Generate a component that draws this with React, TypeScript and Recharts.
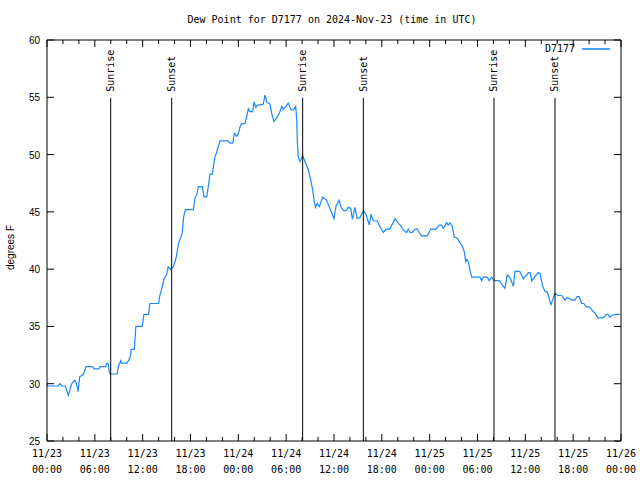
import React from "react";
import { LineChart, Line, XAxis, YAxis, ReferenceLine, Legend } from "recharts";

// Hours since 2024-11-23 00:00 UTC
const hours = [
  0.0, 0.1, 1.4, 1.6, 1.9, 2.3, 2.67, 3.1, 3.5, 3.7, 3.9, 4.1, 4.55, 4.9, 5.7, 5.9, 6.5, 6.65, 7.35, 7.5,
  7.7, 7.8, 7.9, 8.8, 8.95, 9.25, 9.35, 10.0, 10.3, 10.5, 10.55, 10.95, 11.15, 11.95, 12.15, 12.75, 12.9, 14.0, 14.15, 14.45,
  14.7, 15.0, 15.2, 15.5, 15.85, 16.2, 16.5, 16.95, 17.15, 17.35, 18.35, 18.56, 18.78, 18.98, 19.48, 19.7, 20.03, 20.23, 20.45, 20.73,
  21.07, 21.3, 21.7, 22.74, 22.95, 23.3, 23.5, 23.8, 24.0, 24.2, 24.4, 24.84, 25.05, 25.25, 25.46, 25.8, 25.97, 26.2, 26.38, 27.13,
  27.35, 27.56, 27.97, 28.18, 28.47, 28.81, 29.14, 29.44, 29.64, 29.98, 30.27, 30.6, 30.9, 31.2, 31.32, 31.4, 31.52, 31.74, 32.07, 32.36,
  32.78, 33.08, 33.33, 33.53, 33.7, 33.9, 34.16, 34.58, 35.08, 35.4, 35.71, 36.0, 36.25, 36.63, 36.88, 37.17, 37.5, 37.8, 38.1, 38.3,
  38.63, 38.9, 39.26, 39.68, 40.0, 40.23, 40.43, 40.64, 40.93, 41.43, 41.77, 42.19, 42.5, 43.0, 43.65, 44.07, 44.37, 44.7, 45.12, 45.32,
  45.53, 45.82, 46.16, 46.45, 46.7, 47.0, 47.7, 48.13, 48.8, 49.2, 49.5, 49.71, 50.14, 50.33, 50.55, 50.84, 51.09, 51.47, 51.72, 52.1,
  52.35, 52.52, 52.65, 52.85, 53.06, 53.27, 54.3, 54.52, 54.72, 55.22, 55.47, 55.77, 56.1, 56.73, 57.03, 57.45, 57.74, 58.08, 58.5, 58.7,
  59.3, 59.75, 60.4, 60.6, 60.8, 61.2, 61.6, 61.84, 62.18, 62.47, 62.76, 63.0, 63.22, 63.5, 63.7, 64.1, 64.56, 64.97, 65.27, 65.8,
  66.2, 66.5, 66.75, 67.07, 67.35, 67.6, 68.0, 68.2, 68.5, 68.7, 69.1, 69.75, 70.17, 70.37, 70.6, 71.0, 71.35, 71.85,
];

const dewPoint = [
  30.0, 29.8, 29.8, 30.0, 29.8, 29.8, 29.0, 30.0, 30.3, 30.0, 29.3, 30.6, 30.8, 31.5, 31.5, 31.3, 31.3, 31.5, 31.5, 31.8,
  31.7, 31.05, 30.85, 30.85, 31.5, 32.0, 31.8, 31.8, 32.1, 32.5, 33.0, 33.0, 35.0, 35.0, 36.05, 36.05, 37.0, 37.0, 37.7, 38.4,
  39.2, 39.5, 40.2, 40.0, 40.2, 41.0, 42.25, 43.1, 44.6, 45.2, 45.2, 46.2, 46.5, 47.2, 47.2, 46.3, 46.3, 47.2, 48.3, 48.3,
  49.8, 50.25, 51.2, 51.2, 51.0, 51.0, 51.85, 51.6, 51.8, 52.4, 52.7, 52.7, 53.3, 54.0, 53.75, 53.75, 54.6, 54.1, 54.3, 54.4,
  55.2, 54.6, 54.4, 53.6, 52.9, 53.2, 53.6, 54.2, 53.95, 54.2, 54.5, 53.9, 53.9, 54.2, 53.1, 51.1, 49.8, 49.4, 49.9, 49.4,
  48.65, 47.8, 46.9, 45.9, 45.4, 45.75, 45.45, 46.3, 46.0, 45.45, 44.9, 44.4, 45.5, 46.0, 45.45, 45.1, 45.1, 45.4, 45.3, 44.35,
  45.4, 44.4, 44.5, 45.1, 44.8, 44.3, 43.85, 44.8, 44.2, 44.2, 43.7, 43.2, 43.5, 43.5, 44.4, 44.0, 43.8, 43.4, 43.2, 43.5,
  43.2, 43.2, 43.5, 43.5, 43.2, 42.9, 42.9, 43.5, 43.5, 43.85, 43.85, 43.55, 44.05, 43.85, 44.05, 43.7, 42.8, 42.7, 42.4, 42.0,
  41.5, 40.65, 40.85, 40.65, 39.9, 39.3, 39.3, 39.0, 39.3, 39.3, 39.0, 39.3, 39.0, 39.0, 38.7, 38.33, 39.5, 39.25, 38.5, 39.8,
  39.8, 39.15, 39.7, 39.7, 38.97, 39.35, 39.7, 39.6, 38.5, 38.05, 38.0, 37.4, 36.9, 37.45, 37.9, 37.7, 37.7, 37.3, 37.55, 37.3,
  37.3, 37.6, 37.6, 37.0, 37.0, 36.7, 36.7, 36.6, 36.3, 36.2, 35.75, 35.75, 36.05, 36.05, 35.8, 36.0, 36.05, 36.05,
];

const sunriseHours = [7.99, 32.07, 56.07];
const sunsetHours = [15.64, 39.68, 63.72];

const xTickHours = [
  0, 2, 4, 6, 8, 10, 12, 14, 16, 18, 20, 22, 24, 26, 28, 30, 32, 34, 36, 38, 40, 42, 44, 46, 48,
  50, 52, 54, 56, 58, 60, 62, 64, 66, 68, 70, 72,
];
const xMajorHours = [0, 6, 12, 18, 24, 30, 36, 42, 48, 54, 60, 66, 72];
const xDateLabels = ["11/23", "11/23", "11/23", "11/23", "11/24", "11/24", "11/24", "11/24", "11/25", "11/25", "11/25", "11/25", "11/26"];
const xTimeLabels = ["00:00", "06:00", "12:00", "18:00", "00:00", "06:00", "12:00", "18:00", "00:00", "06:00", "12:00", "18:00", "00:00"];
const yTicks = [25, 30, 35, 40, 45, 50, 55, 60];

const seriesName = "D7177";
const titleText = "Dew Point for D7177 on 2024-Nov-23 (time in UTC)";
const yLabelText = "degrees F";

const data = hours.map((t, i) => ({ t, v: dewPoint[i] }));

const MONO = "'DejaVu Sans Mono', monospace";
const SANS = "'Liberation Sans', Arial, sans-serif";
const LINE_COLOR = "#1a88ff";

const BottomTick = (props: any) => {
  const { x, y, payload } = props;
  const idx = xMajorHours.indexOf(payload.value);
  const major = idx >= 0;
  return (
    <g>
      <line x1={x} x2={x} y1={y} y2={y - (major ? 7 : 4)} stroke="#000" strokeWidth={1} />
      {major && (
        <text x={x} y={y + 16} textAnchor="middle" fontFamily={MONO} fontSize={10} fill="#000">
          {xDateLabels[idx]}
        </text>
      )}
      {major && (
        <text x={x} y={y + 32} textAnchor="middle" fontFamily={MONO} fontSize={10} fill="#000">
          {xTimeLabels[idx]}
        </text>
      )}
    </g>
  );
};

const TopTick = (props: any) => {
  const { x, y, payload } = props;
  const major = xMajorHours.indexOf(payload.value) >= 0;
  return <line x1={x} x2={x} y1={y} y2={y + (major ? 7 : 4)} stroke="#000" strokeWidth={1} />;
};

const LeftTick = (props: any) => {
  const { x, y, payload } = props;
  return (
    <g>
      <line x1={x} x2={x + 7} y1={y} y2={y} stroke="#000" strokeWidth={1} />
      <text x={x - 7} y={y + 4} textAnchor="end" fontFamily={SANS} fontSize={10} fill="#000">
        {payload.value}
      </text>
    </g>
  );
};

const RightTick = (props: any) => {
  const { x, y } = props;
  return <line x1={x} x2={x - 7} y1={y} y2={y} stroke="#000" strokeWidth={1} />;
};

const SunLabel = (props: any) => {
  const { viewBox, text } = props;
  if (!viewBox) return null;
  const x = viewBox.x + 3.5;
  const y = viewBox.y - 6;
  return (
    <text
      x={x}
      y={y}
      textAnchor="start"
      transform={`rotate(-90, ${x}, ${y})`}
      fontFamily={MONO}
      fontSize={10}
      fill="#000"
    >
      {text}
    </text>
  );
};

const TitleLabel = (props: any) => {
  const { viewBox } = props;
  if (!viewBox) return null;
  return (
    <text x={viewBox.x + viewBox.width / 2 - 2} y={23} textAnchor="middle" fontFamily={MONO} fontSize={10} fill="#000">
      {titleText}
    </text>
  );
};

const YTitle = (props: any) => {
  const { viewBox } = props;
  if (!viewBox) return null;
  const x = 14;
  const y = viewBox.y + viewBox.height / 2 + 7;
  return (
    <text x={x} y={y} textAnchor="middle" transform={`rotate(-90, ${x}, ${y})`} fontFamily={SANS} fontSize={10} fill="#000">
      {yLabelText}
    </text>
  );
};

const LegendContent = () => (
  <div style={{ display: "flex", alignItems: "center", fontFamily: MONO, fontSize: 10, lineHeight: "12px", color: "#000" }}>
    <span>{seriesName}</span>
    <svg width={36} height={12} style={{ display: "block" }}>
      <line x1={7} x2={35} y1={6} y2={6} stroke={LINE_COLOR} strokeWidth={1.6} />
    </svg>
  </div>
);

export default function App() {
  return (
    <div style={{ position: "absolute", left: 0, top: 0, width: 640, height: 480, background: "#fff" }}>
      <LineChart width={640} height={480} data={data} margin={{ top: 39, right: 18, bottom: 0, left: 0 }}>
        <XAxis
          xAxisId="b"
          dataKey="t"
          type="number"
          orientation="bottom"
          domain={[0, 72]}
          ticks={xTickHours}
          interval={0}
          height={39}
          tickSize={0}
          tickMargin={0}
          tickLine={false}
          tick={<BottomTick />}
          axisLine={{ stroke: "#000" }}
          allowDataOverflow
        />
        <XAxis
          xAxisId="t"
          dataKey="t"
          type="number"
          orientation="top"
          domain={[0, 72]}
          ticks={xTickHours}
          interval={0}
          height={1}
          tickSize={0}
          tickMargin={0}
          tickLine={false}
          tick={<TopTick />}
          axisLine={{ stroke: "#000" }}
          label={<TitleLabel />}
          allowDataOverflow
        />
        <YAxis
          yAxisId="l"
          type="number"
          domain={[25, 60]}
          ticks={yTicks}
          interval={0}
          width={47}
          tickSize={0}
          tickMargin={0}
          tickLine={false}
          tick={<LeftTick />}
          axisLine={{ stroke: "#000" }}
          label={<YTitle />}
          allowDataOverflow
        />
        <YAxis
          yAxisId="r"
          orientation="right"
          type="number"
          domain={[25, 60]}
          ticks={yTicks}
          interval={0}
          width={1}
          tickSize={0}
          tickMargin={0}
          tickLine={false}
          tick={<RightTick />}
          axisLine={{ stroke: "#000" }}
          allowDataOverflow
        />
        <Legend
          layout="horizontal"
          verticalAlign="middle"
          align="center"
          content={<LegendContent />}
          wrapperStyle={{ position: "absolute", left: 545, top: 43, width: 80, height: 12 }}
        />
        <Line
          xAxisId="b"
          yAxisId="l"
          type="linear"
          dataKey="v"
          name={seriesName}
          stroke={LINE_COLOR}
          strokeWidth={1.2}
          dot={false}
          activeDot={false}
          isAnimationActive={false}
        />
        {sunriseHours.map((h, i) => (
          <ReferenceLine
            key={`sr${i}`}
            xAxisId="b"
            yAxisId="l"
            segment={[{ x: h, y: 25 }, { x: h, y: 54.95 }]}
            stroke="#000"
            strokeWidth={1}
            label={<SunLabel text="Sunrise" />}
          />
        ))}
        {sunsetHours.map((h, i) => (
          <ReferenceLine
            key={`ss${i}`}
            xAxisId="b"
            yAxisId="l"
            segment={[{ x: h, y: 25 }, { x: h, y: 54.95 }]}
            stroke="#000"
            strokeWidth={1}
            label={<SunLabel text="Sunset" />}
          />
        ))}
      </LineChart>
    </div>
  );
}
